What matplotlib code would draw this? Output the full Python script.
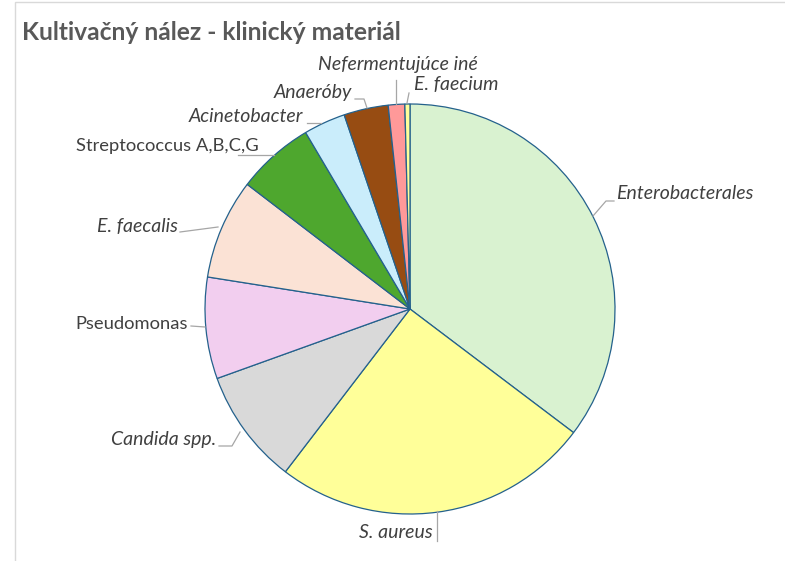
import matplotlib
matplotlib.use("Agg")
import matplotlib.pyplot as plt
from matplotlib.patches import Rectangle

categories = ["Enterobacterales", "S. aureus", "Candida spp.", "Pseudomonas", "E. faecalis",
              "Streptococcus A,B,C,G", "Acinetobacter", "Anaeróby", "Nefermentujúce iné", "E. faecium"]
values = [35.3, 25.1, 9.1, 8.0, 7.9, 6.1, 3.3, 3.5, 1.3, 0.4]
colors = ["#D9F2D0", "#FFFF99", "#D9D9D9", "#F2CEEF", "#FBE2D5",
          "#4EA72E", "#CAEDFB", "#974C12", "#FF9999", "#FFFF99"]
italic = [True, True, True, False, True, False, True, True, True, True]

W, H = 785, 561
CX, CY, R = 410, 309, 205

fig = plt.figure(figsize=(W / 100, H / 100), dpi=100)
ax = fig.add_axes([0, 0, 1, 1])

def d(px, py):
    return ((px - CX) / R, (CY - py) / R)

ax.pie(values, colors=colors, startangle=90, counterclock=False, radius=1,
       wedgeprops=dict(edgecolor="#24618C", linewidth=0.9))
ax.set_aspect("auto")
ax.set_xlim((0 - CX) / R, (W - CX) / R)
ax.set_ylim((CY - H) / R, CY / R)
ax.axis("off")

# label layout: (text anchor px, ha, leader polyline px)
layout = {
    "Enterobacterales": ((616, 194), "left", [(593, 216), (606, 201), (614, 201)]),
    "S. aureus": ((433, 533), "right", [(437, 511), (437, 541)]),
    "Candida spp.": ((216, 440), "right", [(240, 432), (232, 446), (219, 446)]),
    "Pseudomonas": ((188, 324), "right", [(205, 327), (191, 326)]),
    "E. faecalis": ((178, 227), "right", [(218, 227), (180, 232)]),
    "Streptococcus A,B,C,G": ((259, 146), "right", [(274, 155), (238, 155)]),
    "Acinetobacter": ((303, 117), "right", [(321, 123), (307, 123)]),
    "Anaeróby": ((352, 93), "right", [(367, 108), (364, 99), (355, 99)]),
    "Nefermentujúce iné": ((398, 65), "center", [(396, 104), (396, 80)]),
    "E. faecium": ((414, 85), "left", [(407, 103), (409, 93)]),
}

for cat, it in zip(categories, italic):
    (tx, ty), ha, line = layout[cat]
    xs, ys = zip(*[d(px, py) for px, py in line])
    ax.plot(xs, ys, color="#A6A6A6", linewidth=0.9, zorder=3)
    x, y = d(tx, ty)
    ax.text(x, y, cat, ha=ha, va="center", fontsize=14 if it else 13.2, color="#404040",
            fontstyle="italic" if it else "normal", family=["Lato", "DejaVu Sans"])

fig.text(22 / W, 1 - 32 / H, "Kultivačný nález - klinický materiál", ha="left", va="center",
         fontsize=17.7, fontweight="bold", color="#595959", family=["Lato", "DejaVu Sans"])

fig.patches.append(Rectangle((15 / W, -0.05), 1.1, 1 - 2 / H + 0.05, transform=fig.transFigure,
                             fill=False, edgecolor="#D9D9D9", linewidth=1))

fig.savefig("out.png", dpi=100)
